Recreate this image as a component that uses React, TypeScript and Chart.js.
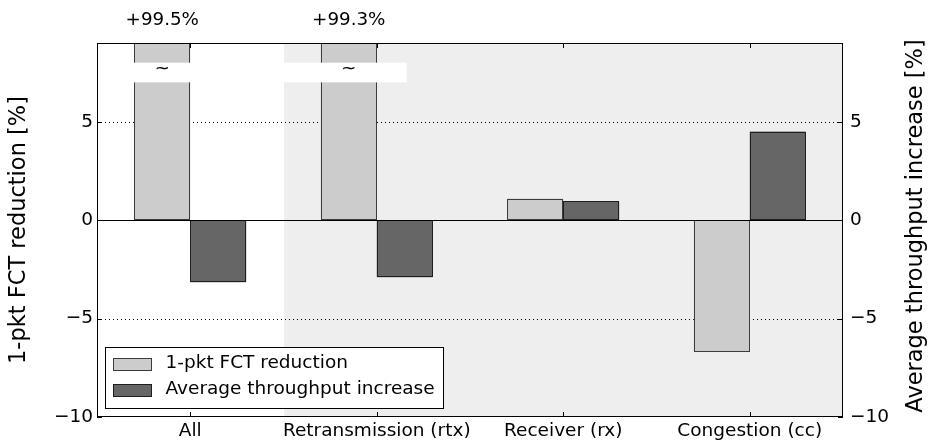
import React, { useEffect, useRef } from 'react';
import { Chart, registerables } from 'chart.js';
Chart.register(...registerables);

const categories = ['All', 'Retransmission (rtx)', 'Receiver (rx)', 'Congestion (cc)'];
const fctReduction = [99.5, 99.3, 1.1, -6.7];
const throughputIncrease = [-3.15, -2.9, 0.95, 4.5];
const seriesLabels = ['1-pkt FCT reduction', 'Average throughput increase'];
const yTicks = [-10, -5, 0, 5];
const gridDotted = [-5, 5];
const yMin = -10;
const yMax = 9;
const breakRange = [7, 8];
const shadedFromCategory = 1;
const leftTitle = '1-pkt FCT reduction [%]';
const rightTitle = 'Average throughput increase [%]';

const FONT = "'DejaVu Sans', sans-serif";
const lightFill = '#cccccc';
const lightEdge = '#3c3c3c';
const darkFill = '#666666';
const darkEdge = '#1e1e1e';

const fmt = (v: number) => (v < 0 ? '\u2212' + Math.abs(v) : String(v));

const decor = {
  id: 'decor',
  beforeDatasetsDraw(chart: any) {
    const { ctx, chartArea: a, scales } = chart;
    const x = scales.x, y = scales.y;
    ctx.save();
    const sx = Math.round((x.getPixelForValue(shadedFromCategory - 1) + x.getPixelForValue(shadedFromCategory)) / 2);
    ctx.fillStyle = '#eeeeee';
    ctx.fillRect(sx, a.top, a.right - sx, a.bottom - a.top);
    ctx.strokeStyle = '#000';
    ctx.lineWidth = 1;
    ctx.setLineDash([1, 3]);
    for (const v of gridDotted) {
      const py = Math.round(y.getPixelForValue(v)) + 0.5;
      ctx.beginPath();
      ctx.moveTo(a.left, py);
      ctx.lineTo(a.right, py);
      ctx.stroke();
    }
    ctx.restore();
  },
  afterDatasetsDraw(chart: any) {
    const { ctx, chartArea: a, scales } = chart;
    const x = scales.x, y = scales.y;
    ctx.save();

    // crisp bar outlines
    ctx.save();
    ctx.beginPath();
    ctx.rect(a.left, a.top, a.right - a.left, a.bottom - a.top);
    ctx.clip();
    const edges = [lightEdge, darkEdge];
    [0, 1].forEach((d) => {
      const m = chart.getDatasetMeta(d);
      ctx.strokeStyle = edges[d];
      ctx.lineWidth = 1;
      m.data.forEach((bar: any) => {
        const half = bar.width / 2;
        const l = Math.round(bar.x - half) + 0.5;
        const r = Math.round(bar.x + half) - 0.5;
        const t = Math.round(Math.max(Math.min(bar.y, bar.base), a.top - 5)) + 0.5;
        const b = Math.round(Math.max(bar.y, bar.base)) - 0.5;
        ctx.strokeRect(l, t, r - l, b - t);
      });
    });
    ctx.restore();

    // zero line
    const pz = Math.round(y.getPixelForValue(0)) + 0.5;
    ctx.strokeStyle = '#000';
    ctx.lineWidth = 1;
    ctx.beginPath();
    ctx.moveTo(a.left, pz);
    ctx.lineTo(a.right, pz);
    ctx.stroke();

    // axis breaks and value labels for clipped bars
    const meta = chart.getDatasetMeta(0);
    const yb1 = y.getPixelForValue(breakRange[1]);
    const yb0 = y.getPixelForValue(breakRange[0]);
    fctReduction.forEach((v, i) => {
      if (v <= yMax) return;
      const bar = meta.data[i];
      const half = bar.width / 2;
      const l = Math.max(a.left, bar.x - half - 38);
      const r = Math.min(a.right, bar.x + half + 30);
      ctx.fillStyle = '#ffffff';
      ctx.fillRect(l, yb1, r - l, yb0 - yb1);
      ctx.fillStyle = '#000';
      ctx.font = `18px ${FONT}`;
      ctx.textAlign = 'center';
      ctx.textBaseline = 'middle';
      ctx.fillText('~', bar.x, (yb0 + yb1) / 2 - 3);
      ctx.font = `18.3px ${FONT}`;
      ctx.fillText('+' + v.toFixed(1) + '%', bar.x, 20);
    });

    // frame
    ctx.strokeStyle = '#000';
    ctx.lineWidth = 1;
    ctx.strokeRect(Math.round(a.left) + 0.5, Math.round(a.top) + 0.5, Math.round(a.right - a.left) - 1, Math.round(a.bottom - a.top) - 1);

    // inward ticks
    ctx.beginPath();
    for (const v of yTicks) {
      const py = Math.round(y.getPixelForValue(v)) + 0.5;
      ctx.moveTo(a.left, py); ctx.lineTo(a.left + 5, py);
      ctx.moveTo(a.right, py); ctx.lineTo(a.right - 5, py);
    }
    categories.forEach((_, i) => {
      const px = Math.round(x.getPixelForValue(i)) + 0.5;
      ctx.moveTo(px, a.bottom); ctx.lineTo(px, a.bottom - 5);
      ctx.moveTo(px, a.top); ctx.lineTo(px, a.top + 5);
    });
    ctx.stroke();

    // legend
    ctx.font = `18.5px ${FONT}`;
    const fills = [lightFill, darkFill];
    const tw = Math.max(...seriesLabels.map((s) => ctx.measureText(s).width));
    const bl = Math.round(a.left + 8) + 0.5;
    const bh = 61;
    const bb = Math.round(a.bottom - 9);
    const bt = bb - bh + 0.5;
    const bw = Math.round(60 + tw + 9);
    ctx.fillStyle = '#fff';
    ctx.fillRect(bl, bt, bw, bh);
    ctx.strokeStyle = '#000';
    ctx.strokeRect(bl, bt, bw, bh);
    seriesLabels.forEach((s, i) => {
      const cy = bt + 16 + i * 26;
      ctx.fillStyle = fills[i];
      ctx.fillRect(bl + 8, Math.round(cy - 6), 38, 12);
      ctx.strokeStyle = edges[i];
      ctx.strokeRect(bl + 8, Math.round(cy - 6) + 0.5, 38, 12);
      ctx.fillStyle = '#000';
      ctx.textAlign = 'left';
      ctx.textBaseline = 'middle';
      ctx.fillText(s, bl + 60, cy);
    });

    // right axis title (reads bottom to top)
    ctx.translate(916, (a.top + a.bottom) / 2 - 4);
    ctx.rotate(-Math.PI / 2);
    ctx.font = `22.5px ${FONT}`;
    ctx.textAlign = 'center';
    ctx.textBaseline = 'middle';
    ctx.fillStyle = '#000';
    ctx.fillText(rightTitle, 0, 0);
    ctx.restore();
  },
};

const setTicks = (scale: any) => {
  scale.ticks = yTicks.map((v) => ({ value: v }));
};

export default function App() {
  const ref = useRef<HTMLCanvasElement>(null);
  useEffect(() => {
    document.body.style.margin = '0';
    const chart = new Chart(ref.current as HTMLCanvasElement, {
      type: 'bar',
      data: {
        labels: categories,
        datasets: [
          {
            label: seriesLabels[0],
            data: fctReduction,
            backgroundColor: lightFill,
            borderWidth: 0,
            clip: 0,
            categoryPercentage: 0.6,
            barPercentage: 1,
          } as any,
          {
            label: seriesLabels[1],
            data: throughputIncrease,
            backgroundColor: darkFill,
            borderWidth: 0,
            clip: 0,
            categoryPercentage: 0.6,
            barPercentage: 1,
          } as any,
        ],
      },
      options: {
        animation: false,
        responsive: true,
        maintainAspectRatio: false,
        layout: { padding: { top: 43, left: 0, right: 0, bottom: 0 } },
        plugins: { legend: { display: false }, tooltip: { enabled: false } },
        scales: {
          x: {
            type: 'category',
            offset: true,
            grid: { display: false, drawTicks: false },
            border: { display: false },
            ticks: { color: '#000', font: { family: FONT, size: 18.5 }, padding: 3, maxRotation: 0, autoSkip: false },
            afterFit: (s: any) => { s.height = 27; },
          },
          y: {
            type: 'linear',
            position: 'left',
            min: yMin,
            max: yMax,
            afterBuildTicks: setTicks,
            grid: { display: false, drawTicks: false },
            border: { display: false },
            ticks: { color: '#000', font: { family: FONT, size: 18.5 }, padding: 4, callback: (v: any) => fmt(Number(v)) },
            title: { display: true, text: leftTitle, color: '#000', font: { family: FONT, size: 22.5 }, padding: { top: 6, bottom: 0 } },
            afterFit: (s: any) => { s.width = 97; },
          },
          y1: {
            type: 'linear',
            position: 'right',
            min: yMin,
            max: yMax,
            afterBuildTicks: setTicks,
            grid: { display: false, drawTicks: false },
            border: { display: false },
            ticks: { color: '#000', font: { family: FONT, size: 18.5 }, padding: 7, callback: (v: any) => fmt(Number(v)) },
            afterFit: (s: any) => { s.width = 86; },
          },
        },
      } as any,
      plugins: [decor],
    });
    return () => chart.destroy();
  }, []);
  return (
    <div style={{ position: 'fixed', left: 0, top: 0, width: 929, height: 444 }}>
      <canvas ref={ref} />
    </div>
  );
}
